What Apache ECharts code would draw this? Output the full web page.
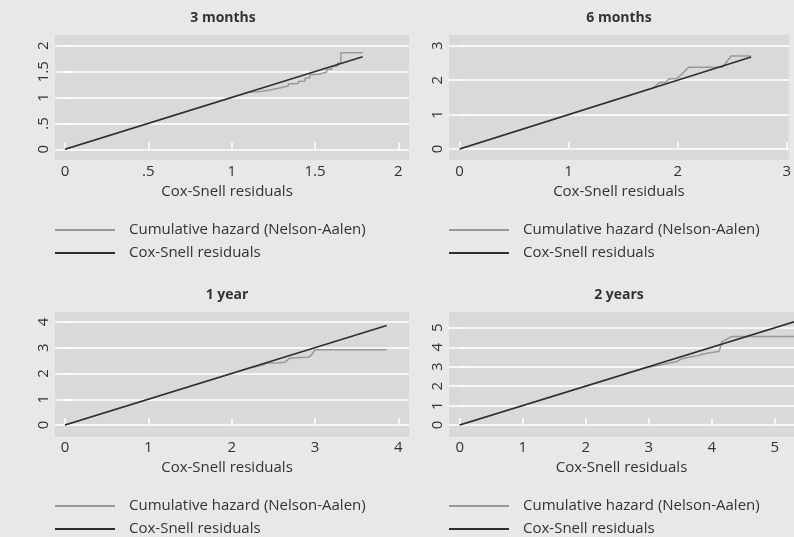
<!DOCTYPE html>
<html><head><meta charset="utf-8">
<script src="https://cdn.jsdelivr.net/npm/echarts@6/dist/echarts.min.js"></script>
<style>html,body{margin:0;padding:0;background:#e8e8ea}#c{width:794px;height:537px}</style>
</head><body><div id="c"></div>
<script>
const panelTitles = ['3 months', '6 months', '1 year', '2 years'];
const xAxisTitle = 'Cox-Snell residuals';
const seriesNames = ['Cumulative hazard (Nelson-Aalen)', 'Cox-Snell residuals'];

const xTicks3m = [0, 0.5, 1, 1.5, 2];
const yTicks3m = [0, 0.5, 1, 1.5, 2];
const xTicks6m = [0, 1, 2, 3];
const yTicks6m = [0, 1, 2, 3];
const xTicks1y = [0, 1, 2, 3, 4];
const yTicks1y = [0, 1, 2, 3, 4];
const xTicks2y = [0, 1, 2, 3, 4, 5];
const yTicks2y = [0, 1, 2, 3, 4, 5];

const hazard3m = [[0,0],[1.10,1.10],[1.16,1.11],[1.16,1.13],[1.22,1.14],[1.22,1.17],[1.28,1.18],[1.28,1.21],[1.34,1.22],[1.34,1.26],[1.40,1.27],[1.40,1.31],[1.44,1.32],[1.44,1.37],[1.47,1.38],[1.47,1.44],[1.52,1.45],[1.52,1.48],[1.57,1.49],[1.57,1.54],[1.60,1.55],[1.60,1.60],[1.635,1.61],[1.635,1.66],[1.655,1.66],[1.655,1.866],[1.786,1.866]];
const resid3m = [[0,0],[1.786,1.786]];

const hazard6m = [[0,0],[1.78,1.78],[1.83,1.92],[1.89,1.94],[1.92,2.03],[1.99,2.05],[2.01,2.09],[2.10,2.37],[2.41,2.37],[2.49,2.70],[2.674,2.70]];
const resid6m = [[0,0],[2.674,2.674]];

const hazard1y = [[0,0],[2.20,2.20],[2.30,2.27],[2.38,2.34],[2.42,2.40],[2.56,2.42],[2.64,2.44],[2.66,2.44],[2.70,2.60],[2.82,2.62],[2.92,2.63],[2.96,2.72],[3.00,2.92],[3.86,2.92]];
const resid1y = [[0,0],[3.86,3.86]];

const hazard2y = [[0,0],[2.95,2.95],[3.10,3.03],[3.30,3.17],[3.45,3.27],[3.52,3.40],[3.65,3.50],[3.78,3.57],[3.85,3.64],[3.95,3.70],[3.98,3.78],[4.12,3.80],[4.15,3.86],[4.16,4.27],[4.18,4.30],[4.32,4.56],[5.31,4.56]];
const resid2y = [[0,0],[5.31,5.31]];

const FONT = "'Open Sans', sans-serif";
const TXT = '#333333';
const FS = 15;
const panels = [
  {grid:{left:55, top:35, width:354, height:125}, xr:[-0.06,2.064], yr:[-0.207,2.207], xt:xTicks3m, yt:yTicks3m, hz:hazard3m, rs:resid3m, titleX:223, titleY:11, nameShift:10, legTop:222},
  {grid:{left:449, top:35, width:345, height:125}, xr:[-0.097,3.02], yr:[-0.32,3.31], xt:xTicks6m, yt:yTicks6m, hz:hazard6m, rs:resid6m, titleX:619, titleY:11, nameShift:0, legTop:222},
  {grid:{left:55, top:311.7, width:354, height:125}, xr:[-0.12,4.128], yr:[-0.454,4.40], xt:xTicks1y, yt:yTicks1y, hz:hazard1y, rs:resid1y, titleX:227, titleY:288, nameShift:10, legTop:498},
  {grid:{left:449, top:311.7, width:345, height:125}, xr:[-0.17,5.306], yr:[-0.60,5.83], xt:xTicks2y, yt:yTicks2y, hz:hazard2y, rs:resid2y, titleX:619, titleY:288, nameShift:0, legTop:498}
];
const fmt = v => String(+v).replace(/^0\./, '.');

const option = {
  backgroundColor: '#e8e8ea',
  animation: false,
  textStyle: {fontFamily: FONT, color: TXT},
  title: panels.map((p, i) => ({
    text: panelTitles[i], left: p.titleX, top: p.titleY, textAlign: 'center', padding: 0,
    textStyle: {fontFamily: FONT, fontSize: 14, fontWeight: 'bold', color: TXT}
  })),
  grid: panels.map(p => Object.assign({show: true, backgroundColor: '#d9d9db', borderWidth: 0, containLabel: false}, p.grid)),
  xAxis: panels.map((p, i) => ({
    type: 'value', gridIndex: i, min: p.xr[0], max: p.xr[1],
    name: xAxisTitle, nameLocation: 'middle', nameGap: 24,
    nameTextStyle: {fontFamily: FONT, fontSize: FS, color: TXT, padding: [0, p.nameShift, 0, 0]},
    axisLine: {show: false},
    axisTick: {show: true, inside: true, length: 7, lineStyle: {color: '#ffffff', width: 1.5}, customValues: p.xt},
    axisLabel: {show: true, margin: 4, fontFamily: FONT, fontSize: FS, color: TXT, formatter: fmt, customValues: p.xt, showMinLabel: true, showMaxLabel: true},
    splitLine: {show: false}
  })),
  yAxis: panels.map((p, i) => ({
    type: 'value', gridIndex: i, min: p.yr[0], max: p.yr[1],
    axisLine: {show: false},
    axisTick: {show: true, inside: true, length: 7, lineStyle: {color: '#ffffff', width: 1.5}, customValues: p.yt},
    axisLabel: {show: true, rotate: 90, margin: 4, fontFamily: FONT, fontSize: FS, color: TXT, formatter: fmt, customValues: p.yt},
    splitLine: {show: true, lineStyle: {color: '#ffffff', width: 1.5}}
  })),
  legend: panels.map(p => ({
    orient: 'vertical', left: p.grid.left, top: p.legTop, padding: 0,
    itemWidth: 60, itemHeight: 2, itemGap: 7, icon: 'rect', selectedMode: false,
    data: seriesNames,
    textStyle: {fontFamily: FONT, fontSize: FS, color: TXT, lineHeight: 16, padding: [0, 0, 0, 9]}
  })),
  series: panels.flatMap((p, i) => [
    {name: seriesNames[0], type: 'line', xAxisIndex: i, yAxisIndex: i, data: p.hz, symbol: 'none', showSymbol: false,
     color: '#999999', lineStyle: {color: '#999999', width: 1.5}, itemStyle: {color: '#999999'}, emphasis: {disabled: true}, z: 2},
    {name: seriesNames[1], type: 'line', xAxisIndex: i, yAxisIndex: i, data: p.rs, symbol: 'none', showSymbol: false,
     color: '#2e2e2e', lineStyle: {color: '#2e2e2e', width: 1.6}, itemStyle: {color: '#2e2e2e'}, emphasis: {disabled: true}, z: 3}
  ])
};
const chart = echarts.init(document.getElementById('c'), null, {renderer: 'canvas'});
chart.setOption(option);
</script></body></html>
